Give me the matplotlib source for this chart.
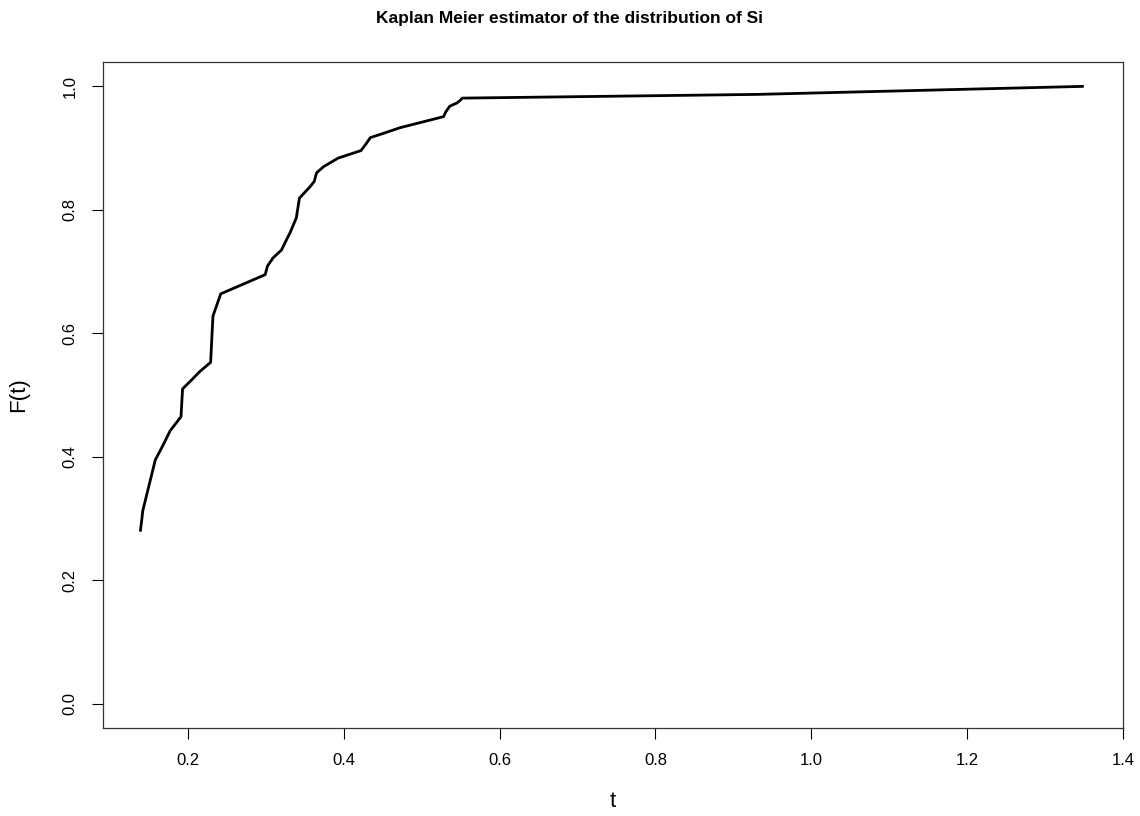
import matplotlib
matplotlib.use("Agg")
import matplotlib.pyplot as plt

# Kaplan-Meier estimate
t_vals = [0.139, 0.142, 0.158, 0.168, 0.177, 0.191, 0.193, 0.205, 0.215, 0.229,
          0.232, 0.242, 0.299, 0.302, 0.309, 0.320, 0.325, 0.331, 0.339, 0.343,
          0.357, 0.362, 0.365, 0.374, 0.393, 0.422, 0.428, 0.434, 0.451, 0.472,
          0.528, 0.531, 0.536, 0.545, 0.549, 0.552, 0.930, 1.348]
F_vals = [0.281, 0.313, 0.395, 0.419, 0.442, 0.465, 0.510, 0.525, 0.538, 0.553,
          0.628, 0.664, 0.695, 0.709, 0.722, 0.735, 0.748, 0.763, 0.787, 0.819,
          0.838, 0.846, 0.860, 0.870, 0.884, 0.896, 0.906, 0.917, 0.924, 0.933,
          0.951, 0.959, 0.968, 0.973, 0.977, 0.981, 0.987, 1.000]
x_ticks = [0.2, 0.4, 0.6, 0.8, 1.0, 1.2, 1.4]
y_ticks = [0.0, 0.2, 0.4, 0.6, 0.8, 1.0]

plt.rcParams["font.family"] = ["Liberation Sans", "DejaVu Sans"]

fig = plt.figure(figsize=(11.4, 8.16), dpi=100)
ax = fig.add_axes([0.0901, 0.1073, 0.985 - 0.0901, 0.9244 - 0.1073])

ax.plot(t_vals, F_vals, color="black", linewidth=2)

ax.set_xlim(0.0905, 1.4)
ax.set_ylim(-0.04, 1.04)
ax.set_xticks(x_ticks)
ax.set_xticklabels([f"{v:.1f}" for v in x_ticks])
ax.set_yticks(y_ticks)
ax.set_yticklabels([f"{v:.1f}" for v in y_ticks], rotation=90, va="center")
ax.tick_params(direction="out", length=8, width=0.8, labelsize=12, pad=10)

for s in ax.spines.values():
    s.set_color("#333333")
    s.set_linewidth(0.9)

ax.set_xlabel("t", fontsize=16, labelpad=16)
ax.set_ylabel("F(t)", fontsize=16, labelpad=24)
fig.suptitle("Kaplan Meier estimator of the distribution of Si",
             fontsize=12.5, fontweight="bold", y=0.986)

fig.savefig("out.png", dpi=100)
